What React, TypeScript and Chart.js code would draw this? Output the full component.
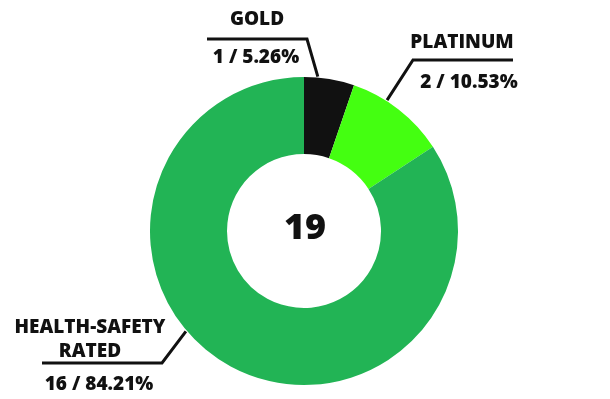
import React, { useEffect, useRef } from "react";
import { Chart, registerables } from "chart.js";

Chart.register(...registerables);

const categories = ["GOLD", "PLATINUM", "HEALTH-SAFETY RATED"];
const counts = [1, 2, 16];
const percents = ["5.26%", "10.53%", "84.21%"];
const colors = ["#111111", "#44ff11", "#22b455"];
const totalLabel = "19";

// label layout: anchor fraction along arc, elbow point, horizontal end, text lines
const labelLayout = [
  { frac: 0.27, elbow: [307, 39], end: [207, 39], title: [["GOLD", 257, 25]], value: [256, 63] },
  { frac: 0.355, elbow: [413, 60], end: [513, 60], title: [["PLATINUM", 462, 48]], value: [469, 88] },
  {
    frac: 0.57,
    elbow: [162, 363],
    end: [42, 363],
    title: [["HEALTH-SAFETY", 90, 333], ["RATED", 90, 357]],
    value: [99, 390],
  },
];

const FONT = '"Open Sans", "DejaVu Sans", sans-serif';

const labelPlugin = {
  id: "labels",
  afterDraw(chart: any) {
    const ctx = chart.ctx;
    const meta = chart.getDatasetMeta(0);
    ctx.save();
    ctx.strokeStyle = "#111111";
    ctx.fillStyle = "#111111";
    ctx.lineWidth = 3;
    ctx.lineJoin = "miter";
    meta.data.forEach((arc: any, i: number) => {
      const L = labelLayout[i];
      const a = arc.startAngle + (arc.endAngle - arc.startAngle) * L.frac;
      const r = arc.outerRadius + 1;
      const ax = arc.x + Math.cos(a) * r;
      const ay = arc.y + Math.sin(a) * r;
      ctx.beginPath();
      ctx.moveTo(ax, ay);
      ctx.lineTo(L.elbow[0], L.elbow[1]);
      ctx.lineTo(L.end[0], L.end[1]);
      ctx.stroke();
      ctx.textAlign = "center";
      ctx.textBaseline = "alphabetic";
      ctx.font = `800 19px ${FONT}`;
      L.title.forEach((t: any) => ctx.fillText(t[0], t[1], t[2]));
      ctx.fillText(`${counts[i]} / ${percents[i]}`, L.value[0], L.value[1]);
    });
    const c = meta.data[0];
    ctx.font = `800 36px ${FONT}`;
    ctx.textAlign = "center";
    ctx.fillText(totalLabel, c.x + 1, c.y + 8);
    ctx.restore();
  },
};

export default function App() {
  const ref = useRef<HTMLCanvasElement>(null);
  useEffect(() => {
    if (!ref.current) return;
    const chart = new Chart(ref.current, {
      type: "doughnut",
      data: {
        labels: categories,
        datasets: [
          {
            data: counts,
            backgroundColor: colors,
            borderWidth: 0,
          },
        ],
      },
      options: {
        responsive: false,
        animation: false,
        cutout: "50%",
        layout: { padding: { top: 77, bottom: 14, left: 150, right: 152 } },
        plugins: { legend: { display: false }, tooltip: { enabled: false } },
      },
      plugins: [labelPlugin],
    });
    return () => chart.destroy();
  }, []);
  return (
    <div style={{ position: "fixed", left: 0, top: 0, width: 610, height: 399, background: "#fff" }}>
      <canvas ref={ref} width={610} height={399} style={{ display: "block" }} />
    </div>
  );
}
